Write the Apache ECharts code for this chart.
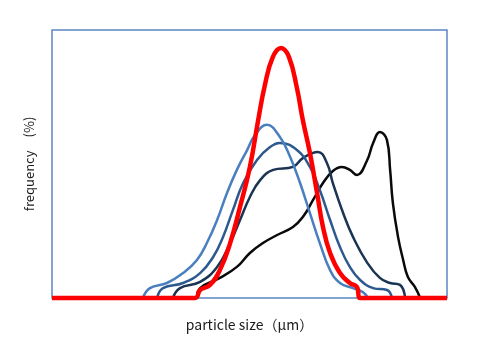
<!DOCTYPE html>
<html><head><meta charset="utf-8">
<script src="https://cdn.jsdelivr.net/npm/echarts@6/dist/echarts.min.js"></script>
<style>html,body{margin:0;padding:0;background:#fff}#c{width:490px;height:340px}</style>
</head><body><div id="c"></div>
<script>
// x: relative particle size position (0-100), y: relative frequency (0-100)
const redCurve = [[0,0],[36.2,0],[37.5,3.0],[40.0,4.9],[42.5,10.4],[45.1,20.5],[47.6,34.0],[50.1,48.9],[52.2,66.4],[53.9,79.5],[55.9,89.9],[58.0,93.3],[60.0,89.9],[62.0,78.4],[63.5,66.4],[65.3,54.1],[67.1,39.2],[68.6,26.5],[70.4,16.8],[72.9,9.3],[75.4,5.6],[77.2,4.1],[78.0,0],[100,0]];
const lightBlueCurve = [[23.0,0],[24.8,3.7],[29.1,5.6],[33.2,9.3],[36.7,14.2],[39.2,20.5],[41.8,29.1],[44.3,39.2],[46.8,47.8],[49.4,55.2],[51.4,60.8],[54.4,64.6],[57.7,60.1],[60.3,52.6],[62.8,42.9],[65.3,31.7],[67.8,20.5],[70.4,10.4],[72.9,5.6],[76.2,3.7],[78.7,2.2],[80.0,0]];
const midBlueCurve = [[26.6,0],[28.1,3.7],[33.2,5.6],[37.5,9.3],[40.8,15.3],[43.3,22.8],[45.8,32.8],[48.4,42.9],[51.9,51.5],[55.2,56.3],[57.7,57.8],[62.0,55.2],[65.3,48.9],[67.8,40.3],[70.4,29.1],[72.9,19.0],[75.4,11.6],[78.0,6.7],[81.3,3.7],[84.8,3.0],[86.1,0]];
const navyCurve = [[30.6,0],[32.4,3.7],[37.5,6.0],[41.8,11.6],[45.1,20.5],[47.6,29.1],[50.1,37.7],[52.7,44.0],[56.0,47.8],[61.0,48.9],[63.5,52.2],[67.3,54.5],[69.6,50.4],[71.1,42.9],[73.7,31.7],[76.2,22.8],[79.7,13.4],[83.0,7.5],[85.6,5.6],[88.1,4.9],[89.4,0]];
const blackCurve = [[36.7,0],[37.5,3.7],[42.5,7.5],[46.8,11.6],[50.1,16.8],[53.4,20.5],[57.0,23.5],[61.0,26.5],[63.5,30.2],[66.1,36.6],[68.6,42.9],[71.1,47.4],[73.4,48.9],[75.4,47.8],[77.2,45.9],[79.7,51.1],[81.3,57.8],[83.0,61.9],[84.8,58.9],[85.6,47.8],[86.3,35.4],[87.6,22.8],[88.9,14.2],[90.1,7.8],[91.9,4.1],[93.2,0]];
const xName = 'particle size（μm）';
const yName = 'frequency　(%)';

const font = '"Noto Sans CJK JP","Noto Sans",sans-serif';
function s(data, color, w, z) {
  return {type:'line', data, showSymbol:false, smooth:0.45,
    lineStyle:{color, width:w}, z, clip:false, silent:true};
}
const chart = echarts.init(document.getElementById('c'));
chart.setOption({
  animation:false,
  grid:{left:52, right:43, top:30, bottom:42, show:true, borderColor:'#5b87c2', borderWidth:1.5, backgroundColor:'#fff'},
  xAxis:{type:'value', min:0, max:100, axisLine:{show:false}, axisTick:{show:false}, axisLabel:{show:false}, splitLine:{show:false},
    name:xName, nameLocation:'middle', nameGap:20, nameTextStyle:{fontFamily:font, fontSize:14, color:'#1a1a1a'}},
  yAxis:{type:'value', min:0, max:100, axisLine:{show:false}, axisTick:{show:false}, axisLabel:{show:false}, splitLine:{show:false},
    name:yName, nameLocation:'middle', nameGap:16, nameTextStyle:{fontFamily:font, fontSize:13, color:'#1a1a1a'}},
  series:[
    s(blackCurve,'#0a0a0a',2.5,2),
    s(navyCurve,'#1b3452',2.5,3),
    s(midBlueCurve,'#2d5a8e',2.5,4),
    s(lightBlueCurve,'#4a7fbf',2.5,5),
    s(redCurve,'#ff0000',4.5,6)
  ]
});
</script></body></html>
